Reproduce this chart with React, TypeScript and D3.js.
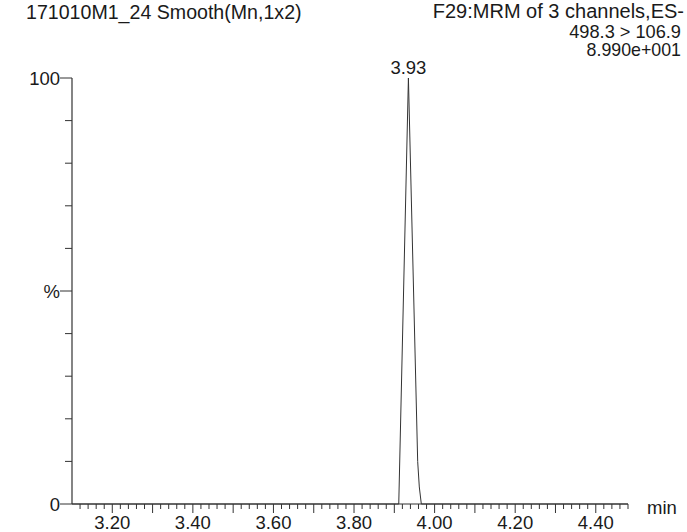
import React from "react";
import * as d3 from "d3";

const titleLeft = "171010M1_24 Smooth(Mn,1x2)";
const titleRight = ["F29:MRM of 3 channels,ES-", "498.3 > 106.9", "8.990e+001"];
const peakLabel = "3.93";
const peakTime = 3.935;

const times = [3.1, 3.905, 3.911, 3.935, 3.958, 3.962, 3.967, 4.48];
const intensity = [0, 0, 0, 100, 10, 4, 0, 0];

const xLabelValues = [3.2, 3.4, 3.6, 3.8, 4.0, 4.2, 4.4];
const yLabelValues = [0, 50, 100];
const yLabelTexts = ["0", "%", "100"];

const W = 687;
const H = 532;
const FONT = "'Liberation Sans', Arial, sans-serif";
const FS = 18.5;

export default function App() {
  const x = d3.scaleLinear().domain([3.1, 4.48]).range([72, 628]);
  const y = d3.scaleLinear().domain([0, 100]).range([504, 78]);

  const minorX = d3.range(156, 225, 1).map((v) => v / 50); // every 0.02 from 3.12
  const yTicks = d3.range(0, 11).map((v) => v * 10);

  const line = d3
    .line<number>()
    .x((_, i) => x(times[i]))
    .y((d) => y(d));

  const stroke = "#333";
  const textColor = "#1a1a1a";
  const rightSizes = [20, 18.2, 17.8];
  const rightBaselines = [18, 38, 56];

  return (
    <svg
      width={W}
      height={H}
      style={{ position: "absolute", left: 0, top: 0, background: "#fff" }}
      fontFamily={FONT}
    >
      <rect width={W} height={H} fill="#fff" />
      <text x={26} y={18.5} fontSize={19.6} fill={textColor}>
        {titleLeft}
      </text>
      {titleRight.map((t, i) => (
        <text key={i} x={i === 0 ? 684 : 681} y={rightBaselines[i]} fontSize={rightSizes[i]} fill={textColor} textAnchor="end">
          {t}
        </text>
      ))}
      {/* axes */}
      <line x1={x(3.1)} x2={x(3.1)} y1={y(100)} y2={y(0)} stroke={stroke} strokeWidth={1.2} />
      <line x1={x(3.1)} x2={x(4.48)} y1={y(0)} y2={y(0)} stroke={stroke} strokeWidth={1.2} />
      {yTicks.map((v) => {
        const major = v % 50 === 0;
        return (
          <line
            key={v}
            x1={x(3.1) - (major ? 12 : 7)}
            x2={x(3.1)}
            y1={y(v)}
            y2={y(v)}
            stroke={stroke}
            strokeWidth={1}
          />
        );
      })}
      {yLabelValues.map((v, i) => (
        <text key={v} x={60} y={y(v) + 6.5} fontSize={FS} fill={textColor} textAnchor="end">
          {yLabelTexts[i]}
        </text>
      ))}
      {minorX.map((v, i) => {
        const k = Math.round(v * 50);
        const major = k % 5 === 0;
        return (
          <line
            key={i}
            x1={x(v)}
            x2={x(v)}
            y1={y(0)}
            y2={y(0) + (major ? 9 : 5)}
            stroke={stroke}
            strokeWidth={1}
          />
        );
      })}
      {xLabelValues.map((v) => (
        <text key={v} x={x(v)} y={529} fontSize={FS} fill={textColor} textAnchor="middle">
          {v.toFixed(2)}
        </text>
      ))}
      <text x={647} y={514} fontSize={FS} fill={textColor}>
        min
      </text>
      <path d={line(intensity) || ""} fill="none" stroke={stroke} strokeWidth={1} />
      <text x={x(peakTime)} y={74} fontSize={FS} fill={textColor} textAnchor="middle">
        {peakLabel}
      </text>
    </svg>
  );
}
